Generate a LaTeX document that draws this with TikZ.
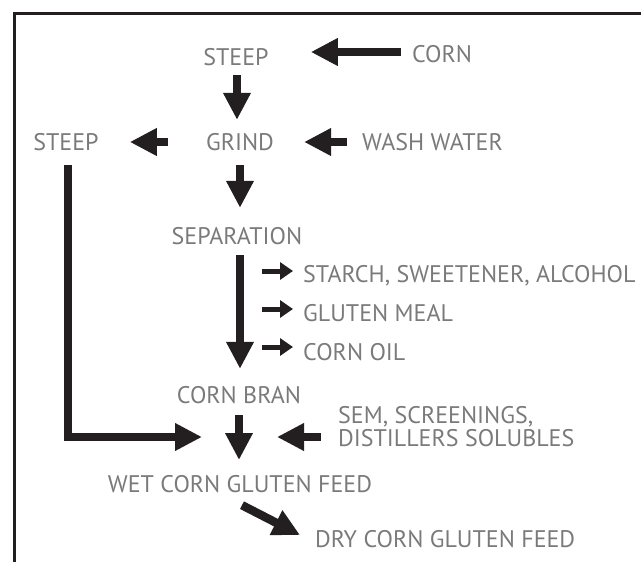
\documentclass[tikz,border=0pt]{standalone}
\usepackage{fontspec}
\setmainfont{PT Sans}
\usetikzlibrary{arrows.meta}
\definecolor{txtgray}{RGB}{122,122,122}
\definecolor{inkblack}{RGB}{35,31,32}
\tikzset{
  lbl/.style={text=txtgray, font=\fontsize{24}{27}\selectfont, inner sep=0pt, text height=17pt, text depth=0pt},
  flow/.style={draw=inkblack, line width=8.5pt, -{Triangle[width=26pt,length=27pt]}},
  sidearrow/.style={draw=inkblack, line width=5pt, -{Triangle[width=17pt,length=13pt]}}
}
\begin{document}
\begin{tikzpicture}[x=1pt,y=-1pt]
      \useasboundingbox (0,0) rectangle (641,562);
      \clip (0,0) rectangle (641,562);
      \draw[inkblack,line width=3pt] (14,600) -- (14,13) -- (700,13);

      \node[lbl] (steepA) at (236,57) {STEEP};
      \node[lbl] (corn) at (442,54) {CORN};
      \node[lbl] (grind) at (240,142) {GRIND};
      \node[lbl] (steepB) at (66,142) {STEEP};
      \node[lbl,anchor=west] (wash) at (362,142) {WASH WATER};
      \node[lbl] (sep) at (237,236) {SEPARATION};
      \node[lbl,anchor=west] (starch) at (303,274) {STARCH, SWEETENER, ALCOHOL};
      \node[lbl,anchor=west] (meal) at (303,313) {GLUTEN MEAL};
      \node[lbl,anchor=west] (oil) at (303,352) {CORN OIL};
      \node[lbl] (bran) at (239,395) {CORN BRAN};
      \node[lbl,anchor=west,align=left,font=\fontsize{24}{23}\selectfont] (sem) at (338,438) {SEM, SCREENINGS,\\DISTILLERS SOLUBLES};
      \node[lbl] (wet) at (240,484) {WET CORN GLUTEN FEED};
      \node[lbl,anchor=west] (dry) at (315,539) {DRY CORN GLUTEN FEED};
      \coordinate (merge) at (239,437);

      \draw[flow] ([xshift=-11pt,yshift=2pt]corn.west) -- ([xshift=42pt,yshift=5pt]steepA.east);
      \draw[flow] ([xshift=1pt,yshift=-9.5pt]steepA.south) -- ([xshift=-3pt,yshift=13.5pt]grind.north);
      \draw[flow] ([xshift=-38pt]grind.west) -- ([xshift=31pt]steepB.east);
      \draw[flow] ([xshift=-15pt]wash.west) -- ([xshift=30pt]grind.east);
      \draw[flow] ([yshift=-14.5pt]grind.south) -- ([xshift=3pt,yshift=19.5pt]sep.north);
      \draw[flow] ([xshift=3pt,yshift=-10.5pt]sep.south) -- ([xshift=1pt,yshift=17.5pt]bran.north);
      \draw[sidearrow] ([xshift=-41pt,yshift=3pt]starch.west) -- ([xshift=-10pt,yshift=3pt]starch.west);
      \draw[sidearrow] ([xshift=-41pt,yshift=4pt]meal.west) -- ([xshift=-10pt,yshift=4pt]meal.west);
      \draw[sidearrow] ([xshift=-41pt,yshift=5pt]oil.west) -- ([xshift=-10pt,yshift=5pt]oil.west);
      \draw[flow] ([xshift=2pt,yshift=-14.5pt]steepB.south) |- ([xshift=-37pt]merge);
      \draw[flow] ([yshift=-11.5pt]bran.south) -- ([yshift=-23pt]merge);
      \draw[flow] ([xshift=-17.5pt,yshift=1pt]sem.west) -- ([xshift=38pt]merge);
      \draw[flow] ([xshift=2pt,yshift=-12.5pt]wet.south) -- ([xshift=-15pt,yshift=4pt]dry.west);
\end{tikzpicture}
\end{document}
